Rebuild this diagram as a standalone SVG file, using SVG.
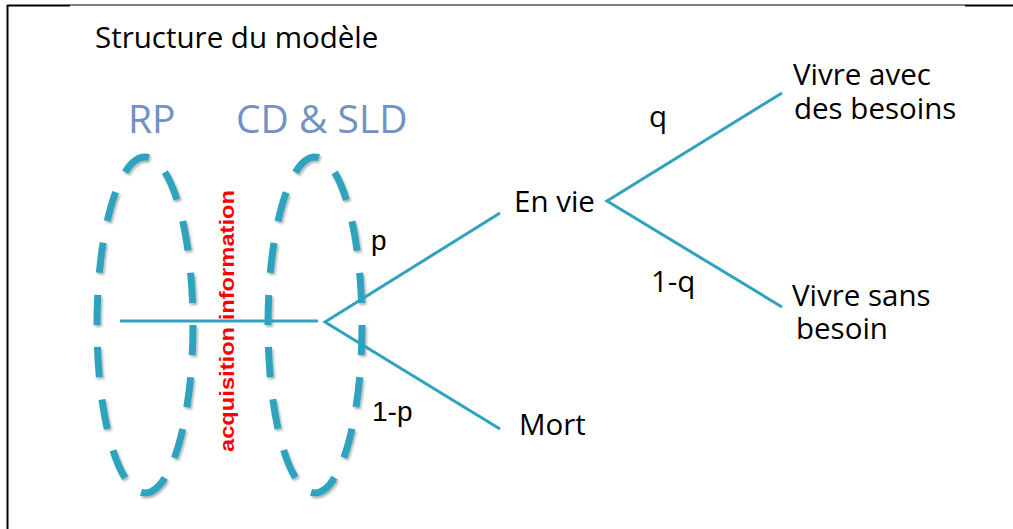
<svg xmlns="http://www.w3.org/2000/svg" width="1013" height="529" viewBox="0 0 1013 529">
  <style>
    .lbl { font-family: "Open Sans", "Liberation Sans", sans-serif; font-size: 29.5px; fill: #000; }
    .prob { font-family: "Liberation Sans", Arial, sans-serif; font-size: 28px; fill: #000; }
    .grp { font-family: "Open Sans", "Liberation Sans", sans-serif; font-size: 39px; fill: #7192C4; }
    .ell { fill: none; stroke: #2FA3BE; stroke-width: 7; stroke-dasharray: 30 22; }
    .edge { fill: none; stroke: #2FA3BE; stroke-width: 3; }
    .frame { stroke: #000; fill: none; }
  </style>
  <defs>
    <filter id="sh" x="-20%" y="-20%" width="140%" height="140%">
      <feDropShadow dx="1.5" dy="2" stdDeviation="1.2" flood-color="#000" flood-opacity="0.3"/>
    </filter>
  </defs>
  <rect width="1013" height="529" fill="#fff"/>
  <g id="frame">
    <line class="frame" x1="7.5" y1="5" x2="7.5" y2="529" stroke-width="2"/>
    <line class="frame" x1="7" y1="5.5" x2="70" y2="5.5" stroke-width="2"/>
    <line class="frame" x1="70" y1="5" x2="965" y2="5" stroke-width="1"/>
    <line class="frame" x1="965" y1="5.5" x2="1013" y2="5.5" stroke-width="2"/>
  </g>
  <text id="title" class="lbl" x="95" y="48">Structure du modèle</text>
  <g id="groups">
    <g id="rp">
      <ellipse class="ell" cx="145" cy="325" rx="48" ry="168" pathLength="728" filter="url(#sh)"/>
      <text class="grp" x="128" y="133">RP</text>
    </g>
    <g id="cdsld">
      <ellipse class="ell" cx="315" cy="325" rx="47" ry="168" pathLength="728" filter="url(#sh)"/>
      <text class="grp" x="236" y="133">CD &amp; SLD</text>
    </g>
  </g>
  <g id="connectors">
    <line class="edge" x1="120" y1="321" x2="318" y2="321"/>
    <polyline class="edge" points="500,213 325,322 500,429"/>
    <polyline class="edge" points="782,93 607,201 782,307"/>
  </g>
  <g id="acq">
    <text transform="translate(233.5,452) rotate(-90)" font-family="Liberation Sans, Arial, sans-serif" font-size="21" font-weight="bold" fill="#FF0000" textLength="262" lengthAdjust="spacingAndGlyphs">acquisition information</text>
  </g>
  <g id="edge-labels">
    <text class="prob" x="371" y="250">p</text>
    <text class="prob" x="372" y="421">1-p</text>
    <text class="lbl" x="649" y="127">q</text>
    <text class="lbl" x="651" y="292">1-q</text>
  </g>
  <g id="n-envie"><text class="lbl" x="514" y="212">En vie</text></g>
  <g id="n-mort"><text class="lbl" x="519" y="435">Mort</text></g>
  <g id="n-avec">
    <text class="lbl"><tspan x="793" y="85">Vivre avec</tspan><tspan x="794" y="119">des besoins</tspan></text>
  </g>
  <g id="n-sans">
    <text class="lbl"><tspan x="792" y="306">Vivre sans</tspan><tspan x="796" y="339">besoin</tspan></text>
  </g>
</svg>
